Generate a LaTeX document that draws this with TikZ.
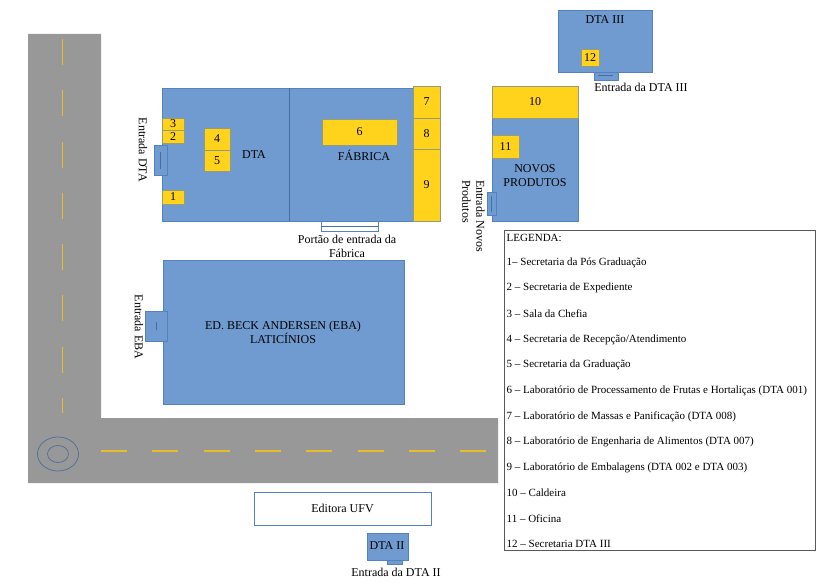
\documentclass[tikz,border=0pt]{standalone}
\usepackage{fontspec}
\setmainfont{Liberation Serif}
\usetikzlibrary{positioning}
\definecolor{roofblue}{RGB}{112,155,208}
\definecolor{edgeblue}{RGB}{84,130,190}
\definecolor{roomyellow}{RGB}{255,210,28}
\definecolor{roomedge}{RGB}{150,155,120}
\definecolor{roadgrey}{RGB}{152,152,152}
\definecolor{dashyellow}{RGB}{232,190,40}
\tikzset{
	building/.style={draw=edgeblue, fill=roofblue, line width=0.7pt},
	room/.style={draw=roomedge, fill=roomyellow, line width=0.8pt},
	doorline/.style={draw=edgeblue!85!black, line width=0.8pt},
	roadline/.style={draw=dashyellow, line width=1.1pt},
	lbl/.style={font=\fontsize{12}{14}\selectfont, text=black, inner sep=0pt},
	legendline/.style={font=\fontsize{11}{13}\selectfont, text=black, inner sep=0pt, anchor=west}
}
\begin{document}
\begin{tikzpicture}[x=1pt, y=-1pt]

	\useasboundingbox (0,0) rectangle (820,583);

	% road
	\fill [roadgrey] (28,34) -- (101,34) -- (101,418) -- (498,418) -- (498,483) -- (28,483) -- cycle;
	\foreach \y in {39.3,90.5,141.7,192.9,244.1,295.3,346.5}
		\draw [roadline] (62.7,\y) -- (62.7,\y+26);
	\draw [roadline] (62.7,398) -- (62.7,413);
	\foreach \x in {101,152.3,203.6,254.9,306.2,357.5,408.8,460.1}
		\draw [roadline] (\x,451) -- (\x+26,451);
	\draw [edgeblue!85!black, line width=0.7pt] (58,454) ellipse (20.5 and 17);
	\draw [edgeblue!85!black, line width=0.7pt] (58,454) ellipse (10.5 and 8.5);

	% main building
	\draw [building] (162,88) rectangle (413,221);
	\draw [doorline] (289,88) -- (289,221);
	\node [lbl] (dta) at (254,155) {DTA};
	\node [lbl] (fabrica) at (364,155) {FÁBRICA};

	\draw [room] (162,118) rectangle (184,130) node [midway, lbl] (r3) {3};
	\draw [room] (162,130) rectangle (184,143) node [midway, lbl] (r2) {2};
	\draw [room] (162,190) rectangle (184,204) node [midway, lbl] (r1) {1};
	\draw [room] (204,128) rectangle (230,150) node [midway, lbl] (r4) {4};
	\draw [room] (204,150) rectangle (230,171) node [midway, lbl] (r5) {5};
	\draw [room] (322,119) rectangle (397,145) node [midway, lbl] (r6) {6};
	\draw [room] (413,86) rectangle (440,118) node [midway, lbl] (r7) {7};
	\draw [room] (413,118) rectangle (440,149) node [midway, lbl] (r8) {8};
	\draw [room] (413,149) rectangle (440,221) node [midway, lbl] (r9) {9};

	\draw [building] (154,145) rectangle (167,175);
	\draw [doorline] (160.5,152) -- (160.5,169);
	\node [lbl, rotate=-90] (entdta) at (143,150) {Entrada DTA};

	\draw [draw=edgeblue, fill=white, line width=0.8pt] (321,221) rectangle (378,231);
	\draw [doorline] (321,226) -- (378,226);
	\node [lbl, align=center] (portao) at (347,246) {Portão de entrada da\\Fábrica};

	% EBA
	\draw [building] (163,260) rectangle (404,404);
	\draw [building] (145,311) rectangle (167,341);
	\draw [doorline] (156,322) -- (156,330);
	\node [lbl, align=center] (eba) at (283,332.5) {ED. BECK ANDERSEN (EBA)\\LATICÍNIOS};
	\node [lbl, rotate=-90] (enteba) at (139,327) {Entrada EBA};

	% novos produtos
	\draw [building] (492,86) rectangle (578,221);
	\draw [room] (492,86) rectangle (578,118) node [midway, lbl] (r10) {10};
	\draw [room] (492,135) rectangle (519,158) node [midway, lbl] (r11) {11};
	\node [lbl, align=center] (novos) at (535,176) {NOVOS\\PRODUTOS};
	\draw [building] (487,192) rectangle (496,215);
	\draw [doorline] (491,196) -- (491,212);
	\node [lbl, rotate=-90, align=left, anchor=north west] (entnovos) at (485,180) {Entrada Novos\\Produtos};

	% DTA III
	\draw [building] (558,10) rectangle (652,72);
	\node [lbl] (dta3) at (605,20) {DTA III};
	\draw [room] (581,49) rectangle (599,66) node [midway, lbl] (r12) {12};
	\draw [building] (594,72) rectangle (618,80);
	\draw [doorline] (598,75.5) -- (613,75.5);
	\node [lbl] (entdta3) at (641,87) {Entrada da DTA III};

	% DTA II
	\node [draw=edgeblue, fill=white, line width=0.8pt, minimum width=177pt, minimum height=33pt, lbl] (editora) at (342.5,508.5) {Editora UFV};
	\draw [building] (367,533) rectangle (408,560);
	\node [lbl] (dta2) at (387,546) {DTA II};
	\draw [building] (387,560) rectangle (402,564);
	\node [lbl] (entdta2) at (396,572) {Entrada da DTA II};

	% legend
	\draw [draw=black!65, line width=0.8pt] (504,230) rectangle (815,550);
	\node [legendline] (leg0) at (506.5,237.5) {LEGENDA:};
	\node [legendline] (leg1) at (506.5,262.5) {1– Secretaria da Pós Graduação};
	\node [legendline] (leg2) at (506.5,288) {2 – Secretaria de Expediente};
	\node [legendline] (leg3) at (506.5,314) {3 – Sala da Chefia};
	\node [legendline] (leg4) at (506.5,339.5) {4 – Secretaria de Recepção/Atendimento};
	\node [legendline] (leg5) at (506.5,365) {5 – Secretaria da Graduação};
	\node [legendline] (leg6) at (506.5,391) {6 – Laboratório de Processamento de Frutas e Hortaliças (DTA 001)};
	\node [legendline] (leg7) at (506.5,416.5) {7 – Laboratório de Massas e Panificação (DTA 008)};
	\node [legendline] (leg8) at (506.5,442) {8 – Laboratório de Engenharia de Alimentos (DTA 007)};
	\node [legendline] (leg9) at (506.5,467.5) {9 – Laboratório de Embalagens (DTA 002 e DTA 003)};
	\node [legendline] (leg10) at (506.5,493) {10 – Caldeira};
	\node [legendline] (leg11) at (506.5,518.5) {11 – Oficina};
	\node [legendline] (leg12) at (506.5,543.5) {12 – Secretaria DTA III};

\end{tikzpicture}
\end{document}
